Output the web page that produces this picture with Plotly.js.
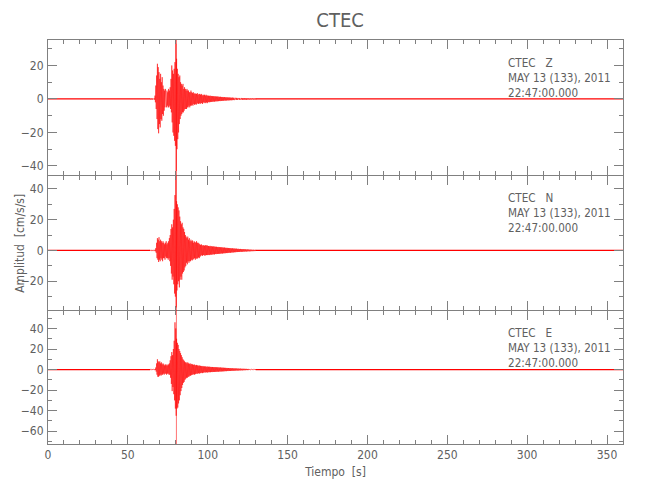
<!DOCTYPE html>
<html>
<head>
<meta charset="utf-8">
<script src="https://cdn.plot.ly/plotly-3.0.1.min.js"></script>
<style>html,body{margin:0;padding:0;background:#fff;}#chart{width:650px;height:500px;}</style>
</head>
<body>
<div id="chart"></div>
<script>
// Seismogram envelopes (max / min amplitude, cm/s/s), sampled from t0 every dt seconds
var t0 = 64, dt = 0.5;
var zMax = [0.4,0.3,0.4,0.3,0.4,0.5, 2,8,14,21,19,16,12,15,10,13,8,6,5,6,
  4,5,4,6,5,7,12,20,17,15, 18,22,33,24,18,15,13,14,10,9,
  8,9,6,7,6,5,6,5,5,4, 4,5,4,3.5,4,3,3.5,3,3,3.5,
  2.5,3,3,2.5,3,2.5,2,2.5,2.5,2, 2.5,2,2,
  1.9,1.8,2,1.7,1.8,1.6,1.7,1.5,1.6,1.5, 1.4,1.5,1.3,1.4,1.2,1.3,1.2,1.1,1.2,1.0,
  1.1,1.0,0.9,1.0,0.9,0.8,0.9,0.8,0.8,0.7, 0.8,0.7,0.7,0.6,0.7,0.6,0.6,0.5,0.6,0.5,
  0.5,0.6,0.5,0.5,0.4,0.5,0.4,0.5,0.4,0.4, 0.4,0.3,0.4,0.4,0.3,0.4,0.3,0.4,0.3,0.3];
var zMin = [-0.4,-0.3,-0.4,-0.4,-0.3,-0.5, -2,-6,-12,-18,-20.5,-15,-17,-12,-13,-9,-10,-7,-5,-4,
  -5,-4,-5,-5,-4,-6,-8,-14,-20,-22, -25,-28,-43,-30,-24,-20,-15,-12,-10,-9,
  -8,-8,-7,-6,-6,-6,-5,-5,-4,-5, -4,-4,-3.5,-4,-3,-3.5,-3,-3.5,-3,-2.5,
  -3,-2.5,-3,-2.5,-2.5,-3,-2,-2.5,-2,-2.5, -2,-2.5,-2,
  -1.8,-2,-1.7,-1.8,-1.6,-1.7,-1.5,-1.6,-1.4,-1.5, -1.3,-1.4,-1.3,-1.2,-1.3,-1.1,-1.2,-1.0,-1.1,-1.0,
  -0.9,-1.0,-0.9,-0.8,-0.9,-0.8,-0.8,-0.7,-0.8,-0.7, -0.7,-0.6,-0.7,-0.6,-0.6,-0.5,-0.6,-0.5,-0.5,-0.6,
  -0.5,-0.4,-0.5,-0.4,-0.5,-0.4,-0.4,-0.5,-0.4,-0.3, -0.4,-0.4,-0.3,-0.4,-0.3,-0.3,-0.4,-0.3,-0.3,-0.4];
var nMax = [0.4,0.3,0.4,0.3,0.4,0.3, 0.5,1.5,5,8,7,8.6,6,7,6,5,6,5,4,5,
  6,4,5,6,8,10,14,17,15,20, 27,36,50,32,30,28,26,22,19,17,
  18,15,14,12,10,9,8,9,7,8, 6,7,6,6.5,5,6,5.5,5,6,5,
  5,4.5,4,3.5,4,3.5,3,3.5,3,3.5, 3,3.5,3,
  2.9,2.7,3,2.6,2.8,2.5,2.7,2.4,2.6,2.3, 2.4,2.2,2.3,2.1,2.2,2.0,2.1,1.9,2.0,1.8,
  1.9,1.7,1.8,1.6,1.7,1.5,1.6,1.4,1.5,1.3, 1.4,1.3,1.2,1.3,1.1,1.2,1.0,1.1,1.0,0.9,
  1.0,0.9,0.8,0.9,0.8,0.7,0.8,0.7,0.6,0.7, 0.6,0.5,0.6,0.5,0.5,0.4,0.5,0.4,0.4,0.4];
var nMin = [-0.3,-0.4,-0.3,-0.4,-0.3,-0.4, -0.5,-1.5,-5,-6,-7.5,-6,-7,-5,-6,-7,-5,-5,-6,-4,
  -5,-5,-6,-5,-7,-10,-15,-19,-17,-22, -28,-30,-37,-26,-22,-20,-24,-19,-17,-19,
  -15,-14,-13,-11,-10,-8,-9,-7,-8,-7, -7,-6,-6.5,-6,-5.5,-5,-6,-5,-5.5,-5,
  -4.5,-5,-4,-3.5,-3,-3.5,-3,-3,-3.5,-3, -3,-3,-3,
  -2.8,-3,-2.6,-2.8,-2.5,-2.7,-2.4,-2.6,-2.3,-2.4, -2.2,-2.3,-2.1,-2.2,-2.0,-2.1,-1.9,-2.0,-1.8,-1.9,
  -1.7,-1.8,-1.6,-1.7,-1.5,-1.6,-1.4,-1.5,-1.3,-1.4, -1.2,-1.3,-1.1,-1.2,-1.0,-1.1,-1.0,-0.9,-1.0,-0.9,
  -0.8,-0.9,-0.8,-0.7,-0.8,-0.7,-0.6,-0.7,-0.6,-0.6, -0.5,-0.6,-0.5,-0.5,-0.4,-0.5,-0.4,-0.4,-0.4,-0.3];
var eMax = [0.4,0.3,0.4,0.3,0.4,0.3, 0.5,2,6,10,8,7,8,6,7,5,6,5,4,5,
  4,5,4,5,6,9,13,17,14,20, 28,46,40,30,26,24,20,18,16,14,
  12,10,9,8,7,7,6,7,6,5.5, 6,5,5.5,5,4.5,5,4.5,4,4.5,4,
  4,3.5,4,3.5,3.5,3,3.5,3,3,3, 3,2.5,3,
  2.6,2.8,2.5,2.6,2.4,2.5,2.3,2.4,2.2,2.3, 2.1,2.2,2.0,2.1,1.9,2.0,1.8,1.9,1.7,1.8,
  1.6,1.7,1.5,1.6,1.4,1.5,1.3,1.4,1.3,1.2, 1.2,1.1,1.2,1.0,1.1,1.0,0.9,1.0,0.9,0.8,
  0.9,0.8,0.7,0.8,0.7,0.7,0.6,0.7,0.6,0.5, 0.6,0.5,0.5,0.4,0.5,0.4,0.4,0.4,0.3,0.4];
var eMin = [-0.3,-0.4,-0.3,-0.4,-0.3,-0.4, -0.5,-2,-5,-7,-7,-6,-5,-6,-5,-5,-4,-5,-4,-4,
  -5,-4,-4,-5,-5,-8,-14,-21,-17,-24, -30,-38,-45,-38,-37,-33,-30,-25,-21,-18,
  -15,-13,-12,-10,-9,-8,-8,-7,-7,-6, -6,-5.5,-5,-5,-4.5,-5,-4.5,-4,-4,-4,
  -3.5,-4,-3.5,-3.5,-3,-3.5,-3,-3,-2.5,-3, -2.5,-3,-2.5,
  -2.7,-2.5,-2.6,-2.4,-2.5,-2.3,-2.4,-2.2,-2.3,-2.1, -2.2,-2.0,-2.1,-1.9,-2.0,-1.8,-1.9,-1.7,-1.8,-1.6,
  -1.7,-1.5,-1.6,-1.4,-1.5,-1.3,-1.4,-1.3,-1.2,-1.3, -1.1,-1.2,-1.0,-1.1,-1.0,-0.9,-1.0,-0.9,-0.8,-0.9,
  -0.8,-0.7,-0.8,-0.7,-0.6,-0.7,-0.6,-0.5,-0.6,-0.5, -0.5,-0.4,-0.5,-0.4,-0.4,-0.4,-0.3,-0.4,-0.3,-0.3];
// quiet (pre- and post-event) parts of each record
var quietBefore = [0, 64];
var quietAfter = [130, 360];
var quietLevel = [0, 0];
var pickTime = [80.4];
var components = ['Z', 'N', 'E'];
var station = 'CTEC';
var dateLine = 'MAY 13 (133), 2011';
var timeLine = '22:47:00.000';
var yRanges = [[-45.4, 35.2], [-38.7, 48.4], [-72.5, 57]];
var xTickVals = [0, 50, 100, 150, 200, 250, 300, 350];

var FONT = '"Liberation Sans Narrow", "DejaVu Sans Condensed", "Liberation Sans", sans-serif';
var RED = '#ff0000';
var AXC = '#808080';
var TXT = '#606060';

function zig(mx, mn) {
  var xs = [], ys = [];
  var n = Math.min(mx.length, mn.length);
  for (var i = 0; i < n; i++) {
    var t = t0 + i * dt;
    xs.push(t); ys.push(mx[i]);
    xs.push(t + dt / 2); ys.push(mn[i]);
  }
  return {x: xs, y: ys};
}

var sets = [[zMax, zMin], [nMax, nMin], [eMax, eMin]];
var data = [];
var axN = ['', '2', '3'];
sets.forEach(function (s, k) {
  var z = zig(s[0], s[1]);
  var xa = 'x' + axN[k], ya = 'y' + axN[k];
  data.push({type: 'scatter', mode: 'lines', x: quietBefore, y: quietLevel, xaxis: xa, yaxis: ya,
    line: {color: RED, width: 1.3}, hoverinfo: 'skip', showlegend: false});
  data.push({type: 'scatter', mode: 'lines', x: quietAfter, y: quietLevel, xaxis: xa, yaxis: ya,
    line: {color: RED, width: 1.3}, hoverinfo: 'skip', showlegend: false});
  data.push({type: 'scatter', mode: 'lines', x: z.x, y: z.y, xaxis: xa, yaxis: ya,
    line: {color: 'rgba(255,0,0,0.9)', width: 0.6}, hoverinfo: 'skip', showlegend: false});
});

// plot area spans 404 px; panels separated so their frame lines coincide
var H = 404;
var domains = [[269 / H, 1], [134 / H, 268 / H], [0, 133 / H]];

function xAxis(k) {
  var a = {
    range: [0, 360], tickvals: xTickVals, ticks: 'inside', ticklen: 9, tickcolor: AXC, tickwidth: 1,
    minor: {dtick: 10, tick0: 0, ticks: 'inside', ticklen: 4, tickcolor: AXC, tickwidth: 1, showgrid: false},
    showline: true, linecolor: AXC, linewidth: 1, mirror: 'allticks', showgrid: false, zeroline: false,
    anchor: 'y' + axN[k], tickfont: {family: FONT, size: 12, color: TXT}, fixedrange: true
  };
  if (k > 0) a.matches = 'x';
  if (k < 2) { a.showticklabels = false; }
  else { a.title = {text: 'Tiempo  [s]', font: {family: FONT, size: 12, color: TXT}, standoff: 6}; }
  return a;
}
function yAxis(k) {
  return {
    range: yRanges[k], dtick: 20, tick0: 0, ticks: 'inside', ticklen: 9, tickcolor: AXC, tickwidth: 1,
    minor: {dtick: 10, tick0: 0, ticks: 'inside', ticklen: 4, tickcolor: AXC, tickwidth: 1, showgrid: false},
    showline: true, linecolor: AXC, linewidth: 1, mirror: 'allticks', showgrid: false, zeroline: false,
    domain: domains[k], anchor: 'x' + axN[k], tickfont: {family: FONT, size: 12, color: TXT}, fixedrange: true,
    ticklabelstandoff: 1
  };
}

var annotations = components.map(function (c, k) {
  return {
    xref: 'paper', yref: 'y' + axN[k] + ' domain', x: 0.797, y: 0.9, xanchor: 'left', yanchor: 'top',
    align: 'left', showarrow: false,
    text: station + '\u00a0\u00a0\u00a0' + c + '<br>' + dateLine + '<br>' + timeLine,
    font: {family: FONT, size: 11.6, color: TXT}
  };
});
annotations.push({
  xref: 'paper', yref: 'y2 domain', x: -0.049, y: 0.5, xanchor: 'center', yanchor: 'middle',
  textangle: -90, showarrow: false, text: 'Amplitud  [cm/s/s]',
  font: {family: FONT, size: 12, color: TXT}
});

var layout = {
  width: 650, height: 500,
  margin: {l: 48, r: 27, t: 40, b: 56, pad: 0},
  paper_bgcolor: '#ffffff', plot_bgcolor: '#ffffff',
  showlegend: false,
  title: {text: station, font: {family: FONT, size: 20, color: TXT}, x: 0.508, xref: 'paper', y: 0.96, yanchor: 'middle'},
  xaxis: xAxis(0), xaxis2: xAxis(1), xaxis3: xAxis(2),
  yaxis: yAxis(0), yaxis2: yAxis(1), yaxis3: yAxis(2),
  annotations: annotations,
  shapes: [{type: 'line', xref: 'x', yref: 'paper', x0: pickTime[0], x1: pickTime[0], y0: 0, y1: 1,
    line: {color: 'rgba(255,0,0,0.55)', width: 1}}]
};

Plotly.newPlot('chart', data, layout, {displayModeBar: false, staticPlot: true});
</script>
</body>
</html>
